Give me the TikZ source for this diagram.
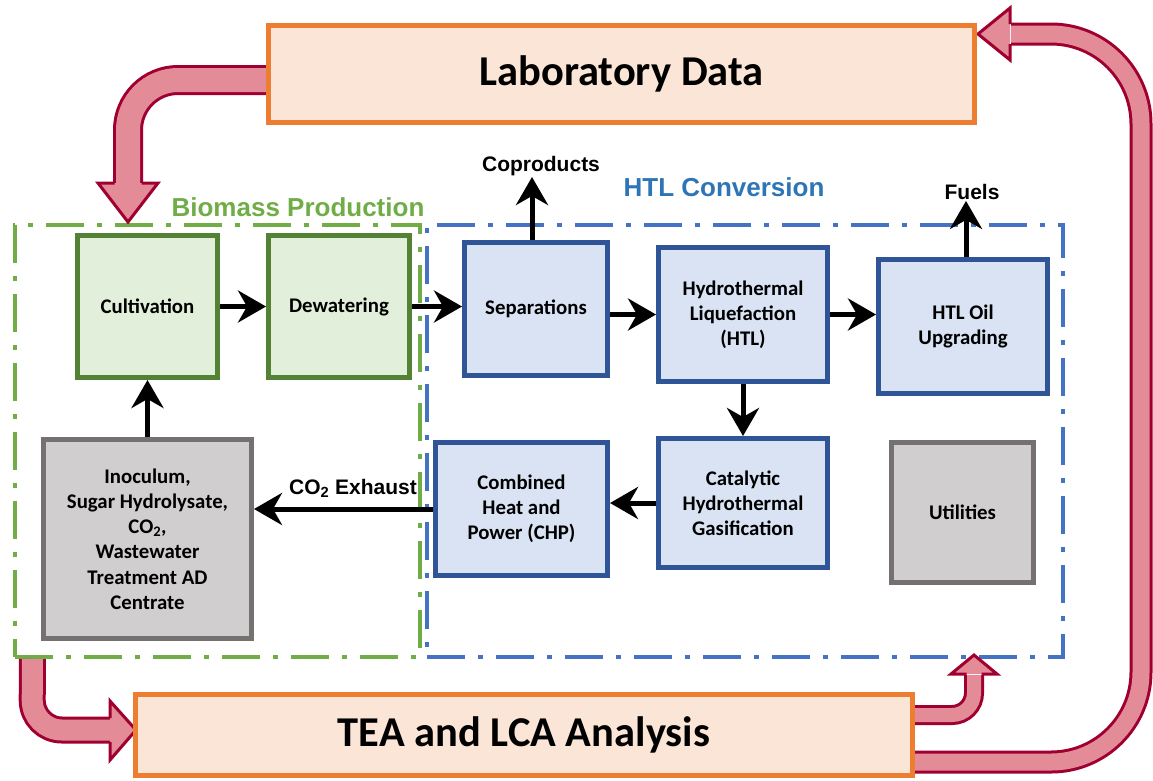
\documentclass[tikz,border=0pt]{standalone}
\usepackage{fontspec}
\setmainfont{Carlito}
\newfontfamily\arialf{Liberation Sans}
\usetikzlibrary{arrows.meta}
\definecolor{orgB}{HTML}{ED7D31}
\definecolor{orgF}{HTML}{FBE5D6}
\definecolor{grnB}{HTML}{548235}
\definecolor{grnF}{HTML}{E2EFDA}
\definecolor{bluB}{HTML}{2F5597}
\definecolor{bluF}{HTML}{DAE3F3}
\definecolor{gryB}{HTML}{767171}
\definecolor{gryF}{HTML}{D0CECE}
\definecolor{grnD}{HTML}{70AD47}
\definecolor{bluD}{HTML}{4472C4}
\definecolor{bluT}{HTML}{2E75B6}
\definecolor{pinkF}{RGB}{227,139,151}
\definecolor{redB}{RGB}{160,0,48}
\begin{document}
\begin{tikzpicture}[x=1pt,y=-1pt,
  box/.style={draw, line width=5pt, align=center, inner sep=2pt,
    font=\fontsize{20.8}{25.2}\selectfont\bfseries},
  gbox/.style={box, draw=grnB, fill=grnF},
  bbox/.style={box, draw=bluB, fill=bluF},
  xbox/.style={box, draw=gryB, fill=gryF},
  obox/.style={draw=orgB, fill=orgF, line width=5pt,
    font=\fontsize{42.5}{46}\selectfont\bfseries},
  dashbox/.style={draw, line width=4pt, dash pattern=on 38pt off 13pt on 5pt off 13pt},
  lbl/.style={font=\arialf\fontsize{21}{24}\selectfont\bfseries, inner sep=1pt},
  grp/.style={font=\arialf\fontsize{26}{30}\selectfont\bfseries, inner sep=1pt},
  arr/.style={line width=5pt, -{Stealth[length=28pt,width=32pt,inset=9pt]}},
  fat/.style={draw=redB, line width=3pt, double=pinkF},
  fathead/.style={fill=pinkF, draw=redB, line width=3pt, line join=miter}
]
\useasboundingbox (0,0) rectangle (1153,780);

% group frames
\node[dashbox, draw=grnD, minimum width=405pt, minimum height=432pt, inner sep=0pt] (bio) at (217.5,441) {};
\node[dashbox, draw=bluD, minimum width=636pt, minimum height=432pt, inner sep=0pt] (htlg) at (745,441) {};
\node[grp, text=grnD] (biot) at (298,207) {Biomass Production};
\node[grp, text=bluT] (htlt) at (724,187) {HTL Conversion};

% outer boxes (placed first so the fat arrows can refer to them)
\node[obox, minimum width=706pt, minimum height=97pt] (lab) at (621.5,74) {Laboratory Data};
\node[obox, minimum width=777pt, minimum height=81pt] (tea) at (524,735) {TEA and LCA Analysis};

% fat arrows
\draw[fat, double distance=24pt, rounded corners=50pt] ([yshift=-6pt]lab.west) -- (128,80) -- (128,184);
\filldraw[fathead] (114.5,183) -- (98,183) -- (128,222) -- (158,183) -- (141.5,183);

\draw[fat, double distance=17pt, rounded corners=90pt] ([yshift=-27pt]tea.east) -- (1141,762) -- (1141,34) -- (1011,34);
\filldraw[fathead] (1010,24) -- (1010,8) -- (978,34) -- (1010,60) -- (1010,44);

\draw[fat, double distance=14pt, rounded corners=22pt] ([yshift=20pt]tea.east) -- (974,715) -- (974,675);
\filldraw[fathead] (966.5,674) -- (951,674) -- (974,655) -- (997,674) -- (981.5,674);

\draw[fat, double distance=21pt, rounded corners=30pt] ([xshift=-185pt]bio.south) -- (32,730) -- (111,730);
\filldraw[fathead] (110,718) -- (110,701) -- (136,730) -- (110,760) -- (110,742);

% redraw outer boxes on top of the arrow ends
\node[obox, minimum width=706pt, minimum height=97pt] at (lab) {Laboratory Data};
\node[obox, minimum width=777pt, minimum height=81pt] at (tea) {TEA and LCA Analysis};

% process boxes
\node[gbox, minimum width=140pt, minimum height=142pt] (cult) at (147.5,306.5) {Cultivation};
\node[gbox, minimum width=141pt, minimum height=142pt] (dew) at (339,306.5) {Dewatering};
\node[bbox, minimum width=143pt, minimum height=133pt] (sep) at (536,309) {Separations};
\node[bbox, minimum width=169pt, minimum height=134pt] (htl) at (743,314.5) {Hydrothermal\\Liquefaction\\(HTL)};
\node[bbox, minimum width=169pt, minimum height=134pt] (oil) at (963,326.5) {HTL Oil\\Upgrading};
\node[xbox, minimum width=208pt, minimum height=199pt] (inoc) at (147.5,539) {Inoculum,\\Sugar Hydrolysate,\\CO\textsubscript{2},\\Wastewater\\Treatment AD\\Centrate};
\node[bbox, minimum width=172pt, minimum height=133pt] (chp) at (521.5,509) {Combined\\Heat and\\Power (CHP)};
\node[bbox, minimum width=169pt, minimum height=129pt] (cat) at (743,503) {Catalytic\\Hydrothermal\\Gasification};
\node[xbox, minimum width=142pt, minimum height=140pt] (util) at (962.5,512.5) {Utilities};

% labels
\node[lbl] (copro) at (541,166) {Coproducts};
\node[lbl] (fuels) at (972,192) {Fuels};
\node[lbl] (co2) at (353,488) {CO\textsubscript{2} Exhaust};

% black arrows
\draw[arr] (cult.east) -- (dew.west);
\draw[arr] (dew.east) -- (dew.east -| sep.west);
\draw[arr] (sep.east |- htl.west) -- (htl.west);
\draw[arr] (htl.east) -- (htl.east -| oil.west);
\draw[arr] ([xshift=-4pt]sep.north) -- ([xshift=-4pt]sep.north |- copro.south);
\draw[arr] ([xshift=3pt]oil.north) -- ([xshift=3pt]oil.north |- fuels.south);
\draw[arr] (htl.south) -- (htl.south |- cat.north);
\draw[arr] (cat.west) -- (cat.west -| chp.east);
\draw[arr] (chp.west) -- (chp.west -| inoc.east);
\draw[arr] (inoc.north) -- (cult.south);
\end{tikzpicture}
\end{document}
